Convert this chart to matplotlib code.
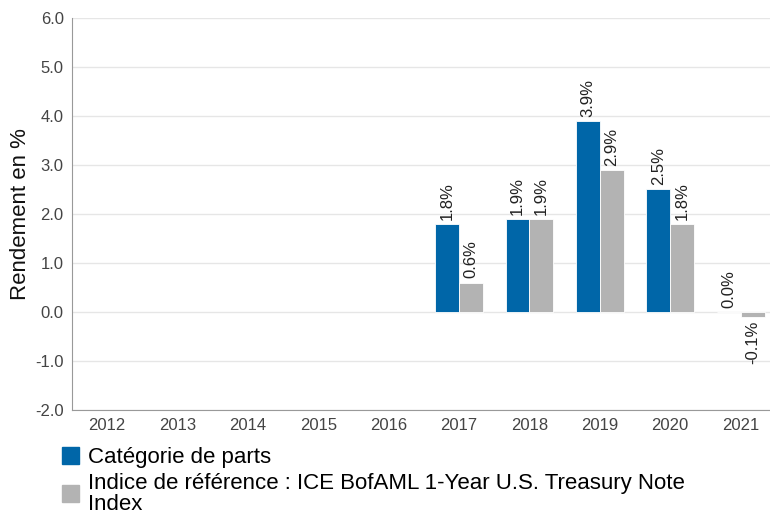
import numpy as np
import matplotlib.pyplot as plt
from matplotlib.patches import Patch

plt.rcParams['font.family'] = ['Liberation Sans', 'DejaVu Sans']

# data
years = ['2012', '2013', '2014', '2015', '2016', '2017', '2018', '2019', '2020', '2021']
fund = [np.nan, np.nan, np.nan, np.nan, np.nan, 1.8, 1.9, 3.9, 2.5, 0.0]
index = [np.nan, np.nan, np.nan, np.nan, np.nan, 0.6, 1.9, 2.9, 1.8, -0.1]
series_names = ['Catégorie de parts',
                'Indice de référence : ICE BofAML 1-Year U.S. Treasury Note\nIndex']

blue = '#0066a8'
grey = '#b3b3b3'

fig = plt.figure(figsize=(7.7, 5.15), dpi=100)
# plot area runs slightly past the right edge of the image, like the original
ax = fig.add_axes([0.0935, 0.204, 0.914, 0.761])

x = np.arange(len(years))
w = 0.34
b1 = ax.bar(x - w / 2, fund, w, color=blue, edgecolor='white', linewidth=0.6, zorder=3)
b2 = ax.bar(x + w / 2, index, w, color=grey, edgecolor='white', linewidth=0.6, zorder=3)

def labels(vals):
    return ['' if np.isnan(v) else f'{v:.1f}%' for v in vals]

ax.bar_label(b1, labels=labels(fund), rotation=90, padding=3, fontsize=12, color='#222222')
ax.bar_label(b2, labels=labels(index), rotation=90, padding=3, fontsize=12, color='#222222')

ax.set_ylim(-2, 6)
ax.set_yticks(np.arange(-2, 6.1, 1))
ax.set_yticklabels([f'{v:.1f}' for v in np.arange(-2, 6.1, 1)])
ax.set_xlim(-0.5, len(years) - 0.5)
ax.set_xticks(x)
ax.set_xticklabels(years)
ax.tick_params(axis='both', length=0, labelsize=12, colors='#444444', pad=6)
ax.set_ylabel('Rendement en %', fontsize=16, color='#111111', labelpad=3)

ax.grid(axis='y', color='#e6e6e6', linewidth=1, zorder=0)
ax.set_axisbelow(True)
for s in ['top', 'right']:
    ax.spines[s].set_visible(False)
for s in ['left', 'bottom']:
    ax.spines[s].set_color('#999999')

handles = [Patch(color=blue), Patch(color=grey)]
leg = fig.legend(handles, series_names, loc='upper left', bbox_to_anchor=(0.08, 0.132),
                 frameon=False, fontsize=16, handlelength=0.8, handleheight=0.8,
                 handletextpad=0.4, labelspacing=0.2, borderaxespad=0, borderpad=0)
for t in leg.get_texts():
    t.set_linespacing(1.0)

fig.savefig('out.png', dpi=100)
